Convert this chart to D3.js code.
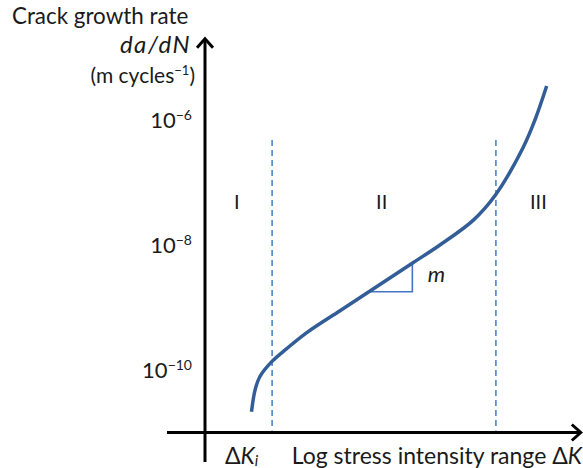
<!DOCTYPE html>
<html lang="en">
	<head>
		<meta charset="UTF-8">
		<title>Crack growth rate</title>
		<style>
			body, html {
				margin: 0;
				background-color: #ffffff;
			}
			svg text {
				font-family: Lato, "Noto Sans", sans-serif;
				fill: #1a1a1a;
			}
		</style>
	</head>
	<body>
		<svg id="svg" width="583" height="468"></svg>

		<script src="https://d3js.org/d3.v7.min.js"></script>
		<script>
			// schematic Paris-law curve
			const deltaK = [1.77, 1.85, 1.96, 2.27, 2.73, 3.49, 5.25, 7.59, 12.8, 17.9, 27.0, 35.4, 49.9, 57.5, 66.4]
			const growthRate = [2.15e-11, 4.8e-11, 7.8e-11, 1.36e-10, 2.2e-10, 3.97e-10, 8.9e-10, 1.84e-9, 5.15e-9, 1.0e-8, 2.5e-8, 6.3e-8, 3.7e-7, 1.0e-6, 3.5e-6]

			const yTicks = [1e-10, 1e-8, 1e-6]
			const yTickExp = ['\u221210', '\u22128', '\u22126']

			const regionBounds = [2.28, 35.6]
			const regionNames = ['I', 'II', 'III']
			const regionK = [1.48, 8.76, 60]
			const regionRate = 4.9e-8

			const slopeK = [7.52, 12.76]
			const slopeRate = [1.79e-9, 5.15e-9]

			const svg = d3.select('#svg')

			const x = d3.scaleLog().domain([1, 100]).range([205, 580])
			const y = d3.scaleLog().domain([1e-10, 1e-6]).range([370, 120])

			const xAxisK = [0.627, 101]
			const yAxisRate = [10 ** -11.47, 10 ** -4.7]
			const originK = 1, originRate = 1e-11

			// axes with open arrow heads
			const axisG = svg.append('g')
				.attr('stroke', '#000')
				.attr('stroke-width', 3)
				.attr('fill', 'none')

			axisG.append('line')
				.attr('x1', x(xAxisK[0])).attr('x2', x(xAxisK[1]) - 1)
				.attr('y1', y(originRate)).attr('y2', y(originRate))
			axisG.append('line')
				.attr('x1', x(originK)).attr('x2', x(originK))
				.attr('y1', y(yAxisRate[0])).attr('y2', y(yAxisRate[1]) + 1)

			const xe = x(xAxisK[1]), ye = y(originRate)
			axisG.append('path')
				.attr('d', `M${xe - 9},${ye - 8} L${xe},${ye} L${xe - 9},${ye + 8}`)
			const ax = x(originK), ay = y(yAxisRate[1])
			axisG.append('path')
				.attr('d', `M${ax - 8},${ay + 9} L${ax},${ay} L${ax + 8},${ay + 9}`)

			// region boundaries
			svg.selectAll('.bound')
				.data(regionBounds)
				.enter()
				.append('line')
				.attr('class', 'bound')
				.attr('x1', d => x(d)).attr('x2', d => x(d))
				.attr('y1', y(4.8e-7)).attr('y2', y(originRate) - 2)
				.attr('stroke', '#4a86c8')
				.attr('stroke-width', 1.6)
				.attr('stroke-dasharray', '6,4')

			// slope triangle
			svg.append('path')
				.attr('d', `M${x(slopeK[0])},${y(slopeRate[0])} L${x(slopeK[1])},${y(slopeRate[0])} L${x(slopeK[1])},${y(slopeRate[1])}`)
				.attr('fill', 'none')
				.attr('stroke', '#4472c4')
				.attr('stroke-width', 1.6)

			// curve
			const line = d3.line()
				.x(d => x(d[0]))
				.y(d => y(d[1]))
				.curve(d3.curveCatmullRom.alpha(0.5))

			svg.append('path')
				.datum(deltaK.map((k, i) => [k, growthRate[i]]))
				.attr('d', line)
				.attr('fill', 'none')
				.attr('stroke', '#325d96')
				.attr('stroke-width', 3.5)
				.attr('stroke-linecap', 'butt')

			// tick labels
			const tl = svg.selectAll('.tick')
				.data(yTicks)
				.enter()
				.append('text')
				.attr('class', 'tick')
				.attr('x', 192)
				.attr('y', d => y(d) + 8)
				.attr('text-anchor', 'end')
				.style('font-size', '22px')
			tl.append('tspan').text('10')
			tl.append('tspan')
				.attr('dy', -8)
				.style('font-size', '14px')
				.text((d, i) => yTickExp[i])

			// region labels
			svg.selectAll('.region')
				.data(regionNames)
				.enter()
				.append('text')
				.attr('class', 'region')
				.attr('x', (d, i) => x(regionK[i]))
				.attr('y', y(regionRate) + 7)
				.attr('text-anchor', 'middle')
				.style('font-size', '20px')
				.text(d => d)

			svg.append('text')
				.attr('x', x(slopeK[1]) + 24)
				.attr('y', y(Math.sqrt(slopeRate[0] * slopeRate[1])) + 5)
				.attr('text-anchor', 'middle')
				.style('font-size', '22px')
				.style('font-style', 'italic')
				.text('m')

			// axis titles
			svg.append('text')
				.attr('x', 12).attr('y', 24)
				.style('font-size', '22.4px')
				.text('Crack growth rate')

			svg.append('text')
				.attr('x', 191).attr('y', 53)
				.attr('text-anchor', 'end')
				.style('font-size', '24px')
				.style('letter-spacing', '1.5px')
				.style('font-style', 'italic')
				.text('da/dN')

			const unit = svg.append('text')
				.attr('x', 195).attr('y', 83)
				.attr('text-anchor', 'end')
				.style('font-size', '21px')
			unit.append('tspan').text('(m cycles')
			unit.append('tspan').attr('dy', -8).style('font-size', '13px').text('\u22121')
			unit.append('tspan').attr('dy', 8).text(')')

			const dk = svg.append('text')
				.attr('x', 225).attr('y', 464)
				.style('font-size', '23px')
			dk.append('tspan').text('\u0394')
			dk.append('tspan').style('font-style', 'italic').text('K')
			dk.append('tspan').attr('dy', 2).style('font-style', 'italic').style('font-size', '15px').text('i')

			const xt = svg.append('text')
				.attr('x', 582).attr('y', 464)
				.attr('text-anchor', 'end')
				.style('font-size', '23px')
			xt.append('tspan').text('Log stress intensity range \u0394')
			xt.append('tspan').style('font-style', 'italic').text('K')
		</script>
	</body>
</html>
